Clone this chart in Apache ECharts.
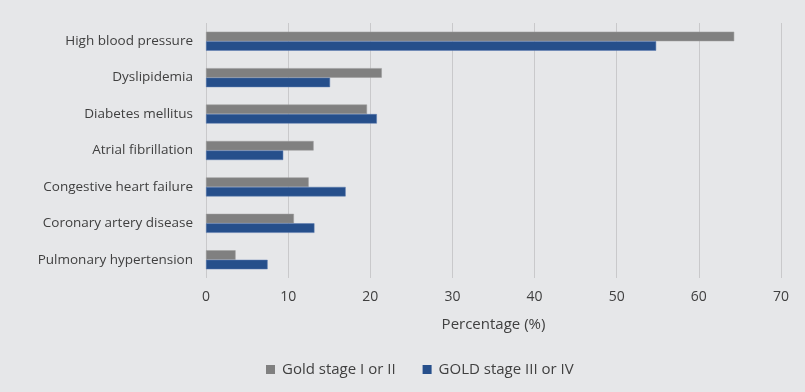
<!DOCTYPE html>
<html><head><meta charset="utf-8">
<script src="https://cdn.jsdelivr.net/npm/echarts@6/dist/echarts.min.js"></script>
<style>html,body{margin:0;padding:0;background:#e6e7e9}#c{width:805px;height:392px}</style>
</head><body><div id="c"></div>
<script>
const categories = ["High blood pressure","Dyslipidemia","Diabetes mellitus","Atrial fibrillation","Congestive heart failure","Coronary artery disease","Pulmonary hypertension"];
const seriesNames = ["Gold stage I or II","GOLD stage III or IV"];
const goldI_II = [64.3, 21.4, 19.6, 13.1, 12.5, 10.7, 3.6];
const goldIII_IV = [54.8, 15.1, 20.8, 9.4, 17.0, 13.2, 7.5];
const xTicks = [0, 10, 20, 30, 40, 50, 60, 70];

const font = "'Open Sans', sans-serif";
const chart = echarts.init(document.getElementById('c'), null, {renderer:'canvas'});
chart.setOption({
  backgroundColor: '#e6e7e9',
  animation: false,
  textStyle: {fontFamily: font, color: '#404040'},
  grid: {left: 206, right: 24, top: 23, bottom: 114, containLabel: false},
  legend: {
    bottom: 10, left: 261, itemWidth: 9, itemHeight: 9, itemGap: 27,
    icon: 'rect',
    itemStyle: {borderWidth: 0},
    textStyle: {fontFamily: font, fontSize: 15, color: '#404040', padding: [0, 0, 0, 2]},
    data: seriesNames
  },
  xAxis: {
    type: 'value', min: xTicks[0], max: xTicks[xTicks.length-1], interval: 10,
    name: 'Percentage (%)', nameLocation: 'middle', nameGap: 39,
    nameTextStyle: {fontFamily: font, fontSize: 15, color: '#404040'},
    axisLine: {show: false}, axisTick: {show: false},
    axisLabel: {fontFamily: font, fontSize: 14, color: '#404040', margin: 12},
    splitLine: {show: true, lineStyle: {color: '#c9c9cb', width: 1}}
  },
  yAxis: {
    type: 'category', data: categories, inverse: true,
    axisLine: {show: false}, axisTick: {show: false},
    axisLabel: {fontFamily: font, fontSize: 13.5, color: '#404040', margin: 13}
  },
  series: [
    {name: seriesNames[0], type: 'bar', data: goldI_II, barWidth: 9.5, barGap: '0%',
     itemStyle: {color: '#808080', borderColor: '#9a9a9a', borderWidth: 0.5}},
    {name: seriesNames[1], type: 'bar', data: goldIII_IV, barWidth: 9.5, barGap: '0%',
     itemStyle: {color: '#264f8b', borderColor: '#5a7ab0', borderWidth: 0.5}}
  ]
});
</script></body></html>
